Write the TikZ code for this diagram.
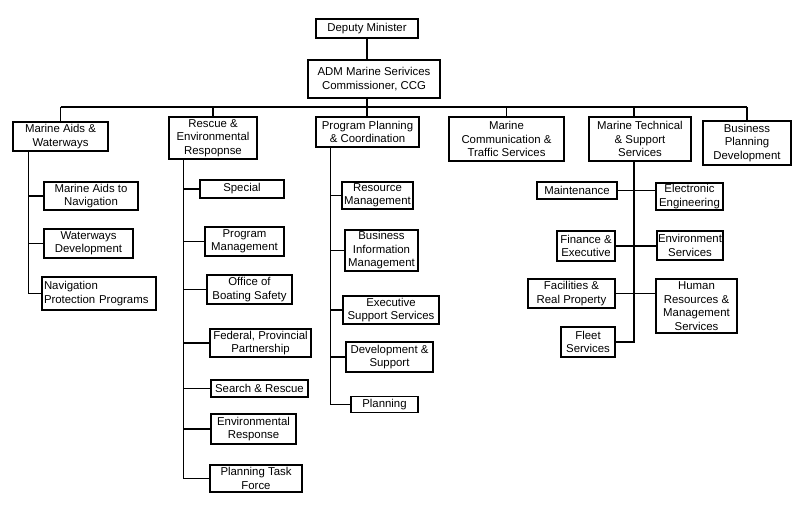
\documentclass[tikz,border=0pt]{standalone}
\usepackage{fontspec}
\setmainfont{Liberation Sans}
\tikzstyle{unit} = [rectangle, draw=black, line width=1.5pt, align=center, inner sep=1pt, font=\fontsize{11.4}{13.5}\selectfont]
\tikzstyle{link} = [draw, line width=1.5pt]

\begin{document}
\begin{tikzpicture}[x=1pt, y=-1pt]
        \useasboundingbox (0,0) rectangle (804,516);
        % top
        \node [unit, minimum width=102pt, minimum height=19pt] (dm) at (367,28.5) {Deputy Minister};
        \node [unit, minimum width=132pt, minimum height=38pt] (adm) at (374,79) {ADM Marine Serivices\\Commissioner, CCG};
        \coordinate (bus) at (0,107);

        % divisions
        \node [unit, minimum width=95pt, minimum height=29pt] (maw) at (60.5,136.5) {Marine Aids \&\\Waterways};
        \node [unit, minimum width=88pt, minimum height=42pt] (rer) at (213,138) {Rescue \&\\Environmental\\Respopnse};
        \node [unit, minimum width=103pt, minimum height=30pt] (ppc) at (367.5,132) {Program Planning\\\& Coordination};
        \node [unit, minimum width=115pt, minimum height=44pt] (mct) at (506.5,139) {Marine\\Communication \&\\Traffic Services};
        \node [unit, minimum width=102pt, minimum height=44pt] (mts) at (640,139) {Marine Technical\\\& Support\\Services};
        \node [unit, minimum width=88pt, minimum height=44pt] (bpd) at (747,143) {Business\\Planning\\Development};

        % marine aids
        \node [unit, minimum width=94pt, minimum height=28pt] (man) at (91,196) {Marine Aids to\\Navigation};
        \node [unit, minimum width=89pt, minimum height=29pt] (wd) at (88.5,243.5) {Waterways\\Development};
        \node [unit, text width=110pt, align=left, inner sep=2pt, minimum height=33pt] (npp) at (99,293.5) {Navigation\\Protection Programs};

        % rescue
        \node [unit, minimum width=84pt, minimum height=18pt] (sp) at (242,189) {Special};
        \node [unit, minimum width=79pt, minimum height=29pt] (pm) at (244.5,241.5) {Program\\Management};
        \node [unit, minimum width=85pt, minimum height=29pt] (obs) at (249.5,289.5) {Office of\\Boating Safety};
        \node [unit, minimum width=101pt, minimum height=28pt] (fpp) at (260.5,343) {Federal, Provincial\\Partnership};
        \node [unit, minimum width=97pt, minimum height=17pt] (sr) at (259.5,388.5) {Search \& Rescue};
        \node [unit, minimum width=85pt, minimum height=30pt] (er) at (253.5,429) {Environmental\\Response};
        \node [unit, minimum width=92pt, minimum height=27pt] (ptf) at (256,478.5) {Planning Task\\Force};

        % program planning
        \node [unit, minimum width=71pt, minimum height=27pt] (rm) at (377.5,195.5) {Resource\\Management};
        \node [unit, minimum width=73pt, minimum height=41pt] (bim) at (381.5,250.5) {Business\\Information\\Management};
        \node [unit, minimum width=96pt, minimum height=28pt] (ess) at (391,310) {Executive\\Support Services};
        \node [unit, minimum width=87pt, minimum height=30pt] (ds) at (389.5,357) {Development \&\\Support};
        \node [unit, minimum width=67pt, minimum height=16pt] (pl) at (384.5,404.5) {Planning};

        % marine technical
        \node [unit, minimum width=80pt, minimum height=17pt] (mnt) at (577,190.5) {Maintenance};
        \node [unit, minimum width=67pt, minimum height=27pt] (ee) at (689.5,196.5) {Electronic\\Engineering};
        \node [unit, minimum width=58pt, minimum height=30pt] (fe) at (586,246) {Finance \&\\Executive};
        \node [unit, minimum width=66pt, minimum height=29pt] (es) at (690,245.5) {Environment\\Services};
        \node [unit, minimum width=87pt, minimum height=29pt] (frp) at (571.5,293.5) {Facilities \&\\Real Property};
        \node [unit, minimum width=81pt, minimum height=54pt] (hrm) at (696.5,306) {Human\\Resources \&\\Management\\Services};
        \node [unit, minimum width=54pt, minimum height=30pt] (fs) at (588,342) {Fleet\\Services};

        % trunks
        \coordinate (mawtrunk) at ([xshift=16pt]maw.south west);
        \coordinate (rertrunk) at ([xshift=15pt]rer.south west);
        \coordinate (ppctrunk) at ([xshift=15pt]ppc.south west);
        \coordinate (mtstrunk) at ([xshift=-6pt]mts.south);

        % lines
        \draw [link] (dm) -- (dm |- adm.north);
        \draw [link] (dm |- adm.south) -- (dm |- ppc.north);
        \draw [link] (maw.north |- bus) -- (bpd.north |- bus);
        \foreach \d in {maw, rer, mct, bpd}
            \draw [link] (\d.north |- bus) -- (\d.north);
        \draw [link] (mtstrunk |- bus) -- (mtstrunk |- mts.north);
        \foreach \c in {man, wd, npp}
            \draw [link] (mawtrunk) |- (\c.west);
        \foreach \c in {sp, pm, obs, fpp, sr, er, ptf}
            \draw [link] (rertrunk) |- (\c.west);
        \foreach \c in {rm, bim, ess, ds, pl}
            \draw [link] (ppctrunk) |- (\c.west);
        \draw [link] (mtstrunk) |- (fs.east);
        \draw [link] (mnt.east) -- (mnt.east -| ee.west);
        \draw [link] (fe.east) -- (fe.east -| es.west);
        \draw [link] (frp.east) -- (frp.east -| hrm.west);
    \end{tikzpicture}
\end{document}
